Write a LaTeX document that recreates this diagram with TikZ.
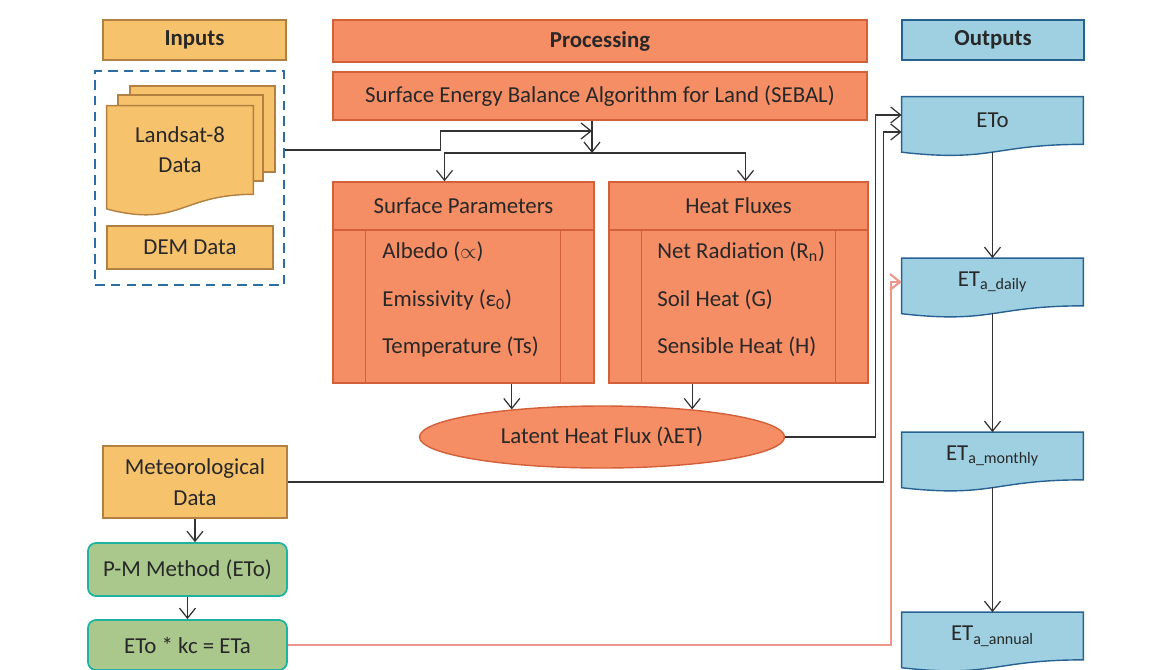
\documentclass[tikz,border=0pt]{standalone}
\usepackage{fontspec}
\setmainfont{Carlito}
\usetikzlibrary{calc,shapes.geometric,arrows.meta,backgrounds}

\definecolor{infill}{RGB}{247,194,108}
\definecolor{inborder}{RGB}{178,128,64}
\definecolor{prfill}{RGB}{245,141,101}
\definecolor{prborder}{RGB}{212,96,58}
\definecolor{outfill}{RGB}{158,208,225}
\definecolor{outborder}{RGB}{40,98,146}
\definecolor{pmfill}{RGB}{170,200,140}
\definecolor{pmborder}{RGB}{32,178,160}
\definecolor{grpborder}{RGB}{46,108,164}
\definecolor{txt}{RGB}{40,40,40}
\definecolor{pinkline}{RGB}{236,150,140}

% document shape (wavy bottom) round a node
\newcommand{\docpath}[1]{(#1.north west) -- (#1.north east) -- (#1.south east) .. controls (#1.south) and ($(#1.north)!1.38!(#1.south)$) .. ($(#1.north west)!1.165!(#1.south west)$) -- cycle}

\tikzset{
  every node/.style={text=txt, font=\fontsize{13}{15}\selectfont},
  head/.style={minimum height=8mm, inner sep=0pt, line width=0.8pt, font=\fontsize{13}{15}\selectfont\bfseries},
  inbox/.style={draw=inborder, fill=infill, line width=0.8pt, inner sep=0pt},
  prbox/.style={draw=prborder, fill=prfill, line width=0.8pt, inner sep=0pt},
  outbox/.style={minimum width=36.2mm, minimum height=9.4mm, inner sep=0pt},
  pmbox/.style={draw=pmborder, fill=pmfill, rounded corners=1.6mm, line width=1pt, minimum width=39.8mm, inner sep=0pt},
  item/.style={anchor=west, inner sep=0pt},
  arr/.style={-{Straight Barb[length=2mm,width=3.2mm]}, line width=0.7pt, draw=black!80},
}

\begin{document}
\begin{tikzpicture}[x=0.2mm, y=-0.2mm]
\useasboundingbox (0,0) rectangle (1164,669);

% headers
\node[inbox, head, minimum width=36.6mm] (inp) at (194.5,40) {Inputs};
\node[prbox, head, minimum width=106.8mm, minimum height=8.4mm] (proc) at (600,41) {Processing};
\node[draw=outborder, fill=outfill, head, minimum width=36.4mm] (outp) at (993,40) {Outputs};

% inputs
\node[draw=grpborder, line width=1.5pt, dash pattern=on 5.5pt off 3.5pt, minimum width=37.8mm, minimum height=42.8mm] (grp) at (189.5,178) {};
\node[minimum width=29.2mm, minimum height=17.6mm, inner sep=0pt, align=center, font=\fontsize{13}{17}\selectfont] (land) at (180,150) {Landsat-8\\Data};
\node[inbox, minimum width=33.2mm, minimum height=8.6mm] (dem) at (190,247.5) {DEM Data};
\node[inbox, minimum width=36.8mm, minimum height=14.4mm, align=center, font=\fontsize{13}{18}\selectfont] (met) at (195,482) {Meteorological\\Data};
\node[pmbox, minimum height=10.6mm] (pm) at (187.5,569.5) {P-M Method (ETo)};
\node[pmbox, minimum height=10mm] (kc) at (187.5,645) {ETo * kc = ETa};

% processing
\node[prbox, minimum width=106.8mm, minimum height=9.6mm] (seb) at (600,96) {Surface Energy Balance Algorithm for Land (SEBAL)};
\node[prbox, minimum width=52.2mm, minimum height=9.6mm] (sp) at (463.5,206) {Surface Parameters};
\node[prbox, minimum width=52.2mm, minimum height=30.6mm] (spb) at (463.5,306.5) {};
\draw[prborder, line width=0.8pt] ([xshift=6.6mm]spb.north west) -- ([xshift=6.6mm]spb.south west);
\draw[prborder, line width=0.8pt] ([xshift=-6.8mm]spb.north east) -- ([xshift=-6.8mm]spb.south east);
\node[item] (albedo) at (382,252) {Albedo ($\propto$)};
\node[item] (emis) at (382,300) {Emissivity (ε\textsubscript{0})};
\node[item] (temp) at (382,347) {Temperature (Ts)};

\node[prbox, minimum width=51.8mm, minimum height=9.6mm] (hf) at (738.5,206) {Heat Fluxes};
\node[prbox, minimum width=51.8mm, minimum height=30.6mm] (hfb) at (738.5,306.5) {};
\draw[prborder, line width=0.8pt] ([xshift=6.6mm]hfb.north west) -- ([xshift=6.6mm]hfb.south west);
\draw[prborder, line width=0.8pt] ([xshift=-6.6mm]hfb.north east) -- ([xshift=-6.6mm]hfb.south east);
\node[item] (net) at (657,252) {Net Radiation (R\textsubscript{n})};
\node[item] (soil) at (657,300) {Soil Heat (G)};
\node[item] (sens) at (657,347) {Sensible Heat (H)};

\node[prbox, ellipse, minimum width=73mm, minimum height=12.4mm] (lat) at (602,437) {Latent Heat Flux (λET)};

% outputs
\node[outbox] (eto) at (992.5,120.5) {ETo};
\node[outbox] (daily) at (992.5,282) {ET\textsubscript{a\_daily}};
\node[outbox] (mon) at (992.5,456) {ET\textsubscript{a\_monthly}};
\node[outbox] (ann) at (992.5,636) {ET\textsubscript{a\_annual}};

\begin{scope}[on background layer]
\filldraw[inbox] (130,86) rectangle (275,172);
\filldraw[inbox] (118,95) rectangle (263,181);
\filldraw[inbox] \docpath{land};
\foreach \n in {eto,daily,mon,ann}
  \filldraw[draw=outborder, fill=outfill, line width=0.8pt] \docpath{\n};
\end{scope}

% connectors
\coordinate (join) at (592,131);
\coordinate (split) at (592,153);
\draw[arr] (land -| grp.east) -- ++(155,0) |- (join);
\draw[arr] (seb.south -| split) -- (split);
\draw[arr] (split) -| ([xshift=-3.8mm]sp.north);
\draw[arr] (split) -| ([xshift=1.4mm]hf.north);
\draw[arr] (lat.163 |- spb.south) -- (lat.163);
\draw[arr] (lat.17 |- hfb.south) -- (lat.17);
\draw[arr] (lat.east) -- ++(90,0) |- ([yshift=1.1mm]eto.west);
\draw[arr] (met.east) -- ++(596,0) |- ([yshift=-2.3mm]eto.west);
\draw[arr, draw=pinkline, line width=1.2pt] (kc.east) -- ++(603,0) |- (daily.west);
\draw[arr] (met.south) -- (pm.north -| met.south);
\draw[arr] (pm.south) -- (kc.north);
\foreach \a/\b in {eto/daily,daily/mon,mon/ann}
  \draw[arr] ($(\a.north)!1.16!(\a.south)$) -- (\b.north);
\end{tikzpicture}
\end{document}
